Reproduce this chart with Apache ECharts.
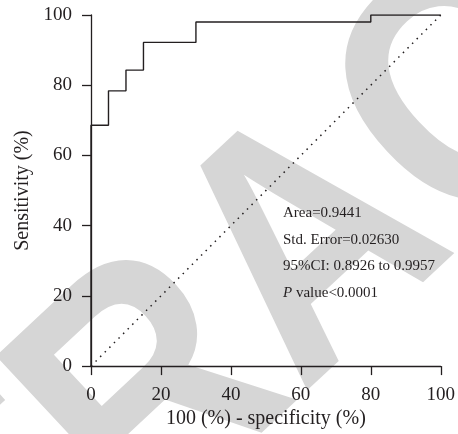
<!DOCTYPE html>
<html>
<head>
<meta charset="utf-8">
<script src="https://cdn.jsdelivr.net/npm/echarts@6/dist/echarts.min.js"></script>
<style>
	html, body { margin: 0; padding: 0; background: #fff; }
	#roc { width: 458px; height: 434px; }
</style>
</head>
<body>
<div id="roc"></div>
<script>
	// ROC points
	var specificityPoints = [ 0, 0, 5, 10, 15, 30, 80, 100 ];
	var sensitivityPoints = [ 0, 68.6, 78.4, 84.3, 92.2, 98.0, 100, 100 ];
	var referenceLine = [ [ 0, 0 ], [ 100, 100 ] ];
	var axisTicks = [ 0, 20, 40, 60, 80, 100 ];
	var statsLines = [ "Area=0.9441", "Std. Error=0.02630", "95%CI: 0.8926 to 0.9957", "{i|P} value<0.0001" ];

	var serif = "'Liberation Serif', 'Times New Roman', serif";
	var ink = "#231f20";

	function getRocData() {
		var data = [];
		for (var i = 0; i < specificityPoints.length; i++) {
			data.push([ specificityPoints[i], sensitivityPoints[i] ]);
		}
		return data;
	}

	function getAxis(name, nameGap, labelMargin) {
		return {
			type : "value",
			min : axisTicks[0],
			max : axisTicks[axisTicks.length - 1],
			interval : axisTicks[1] - axisTicks[0],
			name : name,
			nameLocation : "middle",
			nameGap : nameGap,
			nameTextStyle : {
				fontFamily : serif,
				fontSize : 20,
				color : ink
			},
			axisLine : {
				show : true,
				lineStyle : {
					color : ink,
					width : 1.3
				}
			},
			axisTick : {
				show : true,
				length : 9,
				lineStyle : {
					color : ink,
					width : 1.3
				}
			},
			axisLabel : {
				margin : labelMargin,
				fontFamily : serif,
				fontSize : 19,
				color : ink
			},
			splitLine : {
				show : false
			}
		};
	}

	function getStatsText() {
		var children = [];
		for (var i = 0; i < statsLines.length; i++) {
			children.push({
				type : "text",
				x : 0,
				y : i * 26.5,
				style : {
					text : statsLines[i],
					fontFamily : serif,
					fontSize : 15,
					fill : ink,
					rich : {
						i : {
							fontFamily : serif,
							fontSize : 15,
							fontStyle : "italic",
							fill : ink
						}
					}
				}
			});
		}
		return {
			type : "group",
			left : 283,
			top : 206,
			children : children
		};
	}

	var chart = echarts.init(document.getElementById("roc"), null, {
		renderer : "canvas"
	});

	chart.setOption({
		animation : false,
		backgroundColor : "#fff",
		grid : {
			left : 91,
			right : 15,
			top : 15,
			bottom : 67
		},
		xAxis : getAxis("100 (%) - specificity (%)", 41, 19),
		yAxis : getAxis("Sensitivity (%)", 56, 19),
		graphic : [ {
			// the grey watermark behind the plot
			type : "text",
			x : 316,
			y : 252,
			rotation : 43 * Math.PI / 180,
			scaleY : 1.15,
			z : -10,
			silent : true,
			style : {
				text : "RETRACTED",
				fontFamily : "'Liberation Sans', Arial, sans-serif",
				fontWeight : "bold",
				fontSize : 300,
				fill : "#d6d6d6",
				align : "center",
				verticalAlign : "middle"
			}
		}, getStatsText() ],
		series : [ {
			name : "ROC",
			type : "line",
			step : "end",
			data : getRocData(),
			symbol : "none",
			lineStyle : {
				color : ink,
				width : 1.4
			},
			z : 3
		}, {
			name : "reference",
			type : "line",
			data : referenceLine,
			symbol : "none",
			lineStyle : {
				color : ink,
				width : 1.5,
				type : [ 1.5, 5 ]
			},
			z : 2
		} ]
	});
</script>
</body>
</html>
